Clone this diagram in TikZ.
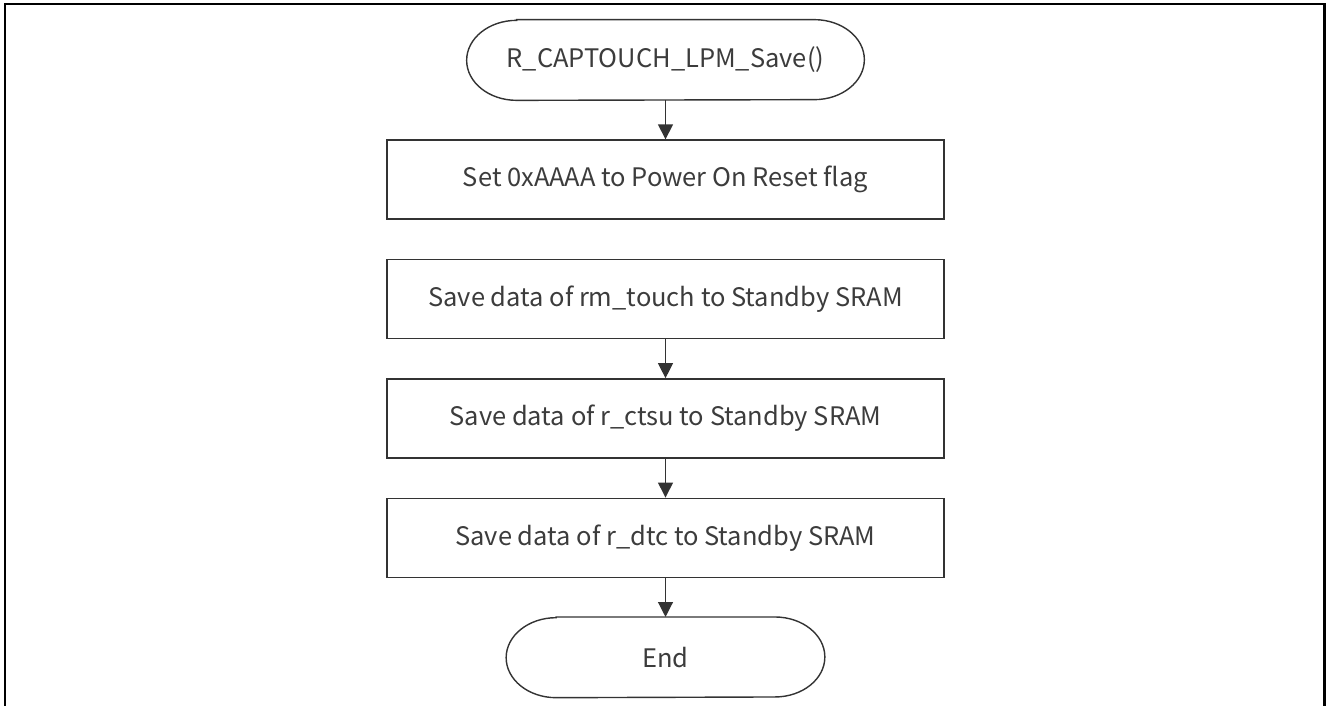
\documentclass[tikz,border=0pt]{standalone}
\usepackage{fontspec}
\setmainfont{Noto Sans CJK JP}
\usepackage{tikz}
\usetikzlibrary{positioning, arrows.meta}
\definecolor{linea}{RGB}{51, 51, 51}
\definecolor{texto}{RGB}{60, 60, 60}
\tikzset{
    term/.style={rectangle, text=texto, minimum height=1.6cm, font=\fontsize{14.5}{16}\selectfont},
    termline/.style={draw=linea, line width=0.8pt},
    proc/.style={draw=linea, rectangle, line width=0.8pt, text=texto, minimum width=11.14cm, minimum height=1.58cm, font=\fontsize{14.5}{16}\selectfont},
    conn/.style={-{Triangle[width=8.5pt, length=8.5pt]}, linea, line width=0.7pt},
}
\begin{document}
\begin{tikzpicture}[node distance=0.78cm]

            \useasboundingbox (0,0) rectangle (26.52,-14.12);
            \draw[black, line width=1.2pt] (0.1,-14.4) -- (0.1,-0.08) -- (26.49,-0.08) -- (26.49,-14.4);

            \node[term, minimum width=7.94cm] (start) at (13.31,-1.2) {R\_CAPTOUCH\_LPM\_Save()};
            \node[proc, below=of start] (por) {Set 0xAAAA to Power On Reset flag};
            \node[proc, below=of por] (touch) {Save data of rm\_touch to Standby SRAM};
            \node[proc, below=of touch] (ctsu) {Save data of r\_ctsu to Standby SRAM};
            \node[proc, below=of ctsu] (dtc) {Save data of r\_dtc to Standby SRAM};
            \node[term, minimum width=6.36cm, below=of dtc] (fin) {End};

            % terminal outlines with elliptical ends
            \draw[termline] ([xshift=1cm]start.north west) -- ([xshift=-1cm]start.north east)
                arc[start angle=90, end angle=-90, x radius=1cm, y radius=0.8cm]
                -- ([xshift=1cm]start.south west)
                arc[start angle=270, end angle=90, x radius=1cm, y radius=0.8cm] -- cycle;
            \draw[termline] ([xshift=1cm]fin.north west) -- ([xshift=-1cm]fin.north east)
                arc[start angle=90, end angle=-90, x radius=1cm, y radius=0.8cm]
                -- ([xshift=1cm]fin.south west)
                arc[start angle=270, end angle=90, x radius=1cm, y radius=0.8cm] -- cycle;

            \draw[conn] (start) -- (por);
            \draw[conn] (touch) -- (ctsu);
            \draw[conn] (ctsu) -- (dtc);
            \draw[conn] (dtc) -- (fin);
        \end{tikzpicture}
\end{document}
